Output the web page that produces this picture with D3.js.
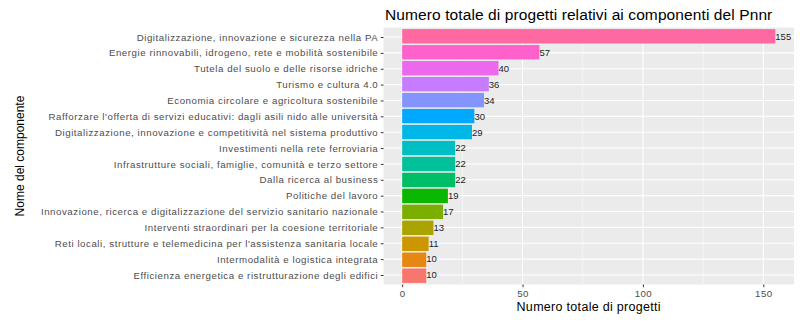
<!DOCTYPE html>
<html><head><meta charset="utf-8">
<script src="https://cdn.jsdelivr.net/npm/d3@7"></script>
<style>body{margin:0;background:#fff}svg{display:block;font-family:"Liberation Sans",Arial,sans-serif}</style>
</head><body><svg id="c" width="800" height="321"></svg>
<script>
const categories = [
  "Digitalizzazione, innovazione e sicurezza nella PA",
  "Energie rinnovabili, idrogeno, rete e mobilità sostenibile",
  "Tutela del suolo e delle risorse idriche",
  "Turismo e cultura 4.0",
  "Economia circolare e agricoltura sostenibile",
  "Rafforzare l'offerta di servizi educativi: dagli asili nido alle università",
  "Digitalizzazione, innovazione e competitività nel sistema produttivo",
  "Investimenti nella rete ferroviaria",
  "Infrastrutture sociali, famiglie, comunità e terzo settore",
  "Dalla ricerca al business",
  "Politiche del lavoro",
  "Innovazione, ricerca e digitalizzazione del servizio sanitario nazionale",
  "Interventi straordinari per la coesione territoriale",
  "Reti locali, strutture e telemedicina per l'assistenza sanitaria locale",
  "Intermodalità e logistica integrata",
  "Efficienza energetica e ristrutturazione degli edifici"
];
const values = [155, 57, 40, 36, 34, 30, 29, 22, 22, 22, 19, 17, 13, 11, 10, 10];
const xTicks = [0, 50, 100, 150];
const xMinor = [25, 75, 125];
const title = "Numero totale di progetti relativi ai componenti del Pnnr";
const xTitle = "Numero totale di progetti";
const yTitle = "Nome del componente";

// R-style hcl (polar LUV) -> hex
function rhcl(h, c, l) {
  const hr = h * Math.PI / 180;
  const U = c * Math.cos(hr), V = c * Math.sin(hr);
  const Xn = 95.047, Yn = 100, Zn = 108.883;
  const den = Xn + 15 * Yn + 3 * Zn;
  const un = 4 * Xn / den, vn = 9 * Yn / den;
  const Y = l > 8 ? Yn * Math.pow((l + 16) / 116, 3) : Yn * l / 903.3;
  const up = U / (13 * l) + un, vp = V / (13 * l) + vn;
  const X = 9 * Y * up / (4 * vp);
  const Z = -X / 3 - 5 * Y + 3 * Y / vp;
  const x = X / 100, y = Y / 100, z = Z / 100;
  const lin = [
    3.240479 * x - 1.537150 * y - 0.498535 * z,
    -0.969256 * x + 1.875992 * y + 0.041556 * z,
    0.055648 * x - 0.204043 * y + 1.057311 * z
  ];
  const g = lin.map(v => {
    const s = v <= 0.0031308 ? 12.92 * v : 1.055 * Math.pow(v, 1 / 2.4) - 0.055;
    return Math.round(Math.max(0, Math.min(1, s)) * 255);
  });
  return d3.rgb(g[0], g[1], g[2]).formatHex();
}
const n = categories.length;
const palette = d3.range(n).map(i => rhcl(15 + i * 360 / n, 100, 65));
// bottom category gets first hue
const colorOf = i => palette[n - 1 - i];

const svg = d3.select("#c");
const P = {left: 383.5, right: 794, top: 27.5, bottom: 284.5};

const x = d3.scaleLinear().domain([-7.75, 162.75]).range([P.left, P.right]);
const y = d3.scaleBand().domain(categories).range([P.top, P.bottom]).paddingOuter(0.1).paddingInner(0.1);
const yc = d3.scalePoint().domain(categories).range([P.top, P.bottom]).padding(0.6);

svg.append("rect").attr("x", P.left).attr("y", P.top).attr("width", P.right - P.left).attr("height", P.bottom - P.top).attr("fill", "#EBEBEB");

const grid = svg.append("g");
grid.selectAll(".mn").data(xMinor).join("line")
  .attr("x1", d => x(d)).attr("x2", d => x(d)).attr("y1", P.top).attr("y2", P.bottom)
  .attr("stroke", "#fff").attr("stroke-width", 0.55);
grid.selectAll(".mj").data(xTicks).join("line")
  .attr("x1", d => x(d)).attr("x2", d => x(d)).attr("y1", P.top).attr("y2", P.bottom)
  .attr("stroke", "#fff").attr("stroke-width", 1.1);
grid.selectAll(".hy").data(categories).join("line")
  .attr("x1", P.left).attr("x2", P.right).attr("y1", d => yc(d)).attr("y2", d => yc(d))
  .attr("stroke", "#fff").attr("stroke-width", 1.1);

svg.append("g").selectAll("rect").data(categories).join("rect")
  .attr("x", x(0)).attr("y", d => y(d))
  .attr("width", (d, i) => x(values[i]) - x(0)).attr("height", y.bandwidth())
  .attr("fill", (d, i) => colorOf(i));

svg.append("g").selectAll("text").data(categories).join("text")
  .attr("x", (d, i) => x(values[i])).attr("y", d => yc(d)).attr("dy", "0.35em")
  .attr("font-size", 9.5).attr("fill", "#222")
  .text((d, i) => values[i]);

// y axis
const yAxis = svg.append("g").attr("transform", `translate(${P.left},0)`)
  .call(d3.axisLeft(yc).tickSize(2.7).tickPadding(2.5));
yAxis.select(".domain").remove();
yAxis.selectAll("line").attr("stroke", "#333").attr("stroke-width", 1);
yAxis.selectAll("text").attr("font-size", 9.7).attr("letter-spacing", 0.55).attr("fill", "#4D4D4D").attr("font-family", "Liberation Sans, Arial, sans-serif");

// x axis
const xAxis = svg.append("g").attr("transform", `translate(0,${P.bottom})`)
  .call(d3.axisBottom(x).tickValues(xTicks).tickSize(2.7).tickPadding(2.5));
xAxis.select(".domain").remove();
xAxis.selectAll("line").attr("stroke", "#333");
xAxis.selectAll("text").attr("font-size", 9.7).attr("letter-spacing", 0.4).attr("fill", "#4D4D4D").attr("font-family", "Liberation Sans, Arial, sans-serif");

svg.append("text").attr("x", (P.left + P.right) / 2).attr("y", 310.5).attr("text-anchor", "middle")
  .attr("font-size", 12.5).attr("letter-spacing", 0.3).attr("fill", "#000").text(xTitle);
svg.append("text").attr("transform", `translate(24,${(P.top + P.bottom) / 2}) rotate(-90)`).attr("text-anchor", "middle")
  .attr("font-size", 12).attr("fill", "#000").text(yTitle);
svg.append("text").attr("x", 385).attr("y", 19.5).attr("font-size", 15.5).attr("letter-spacing", 0.1).attr("fill", "#000").text(title);
</script></body></html>
